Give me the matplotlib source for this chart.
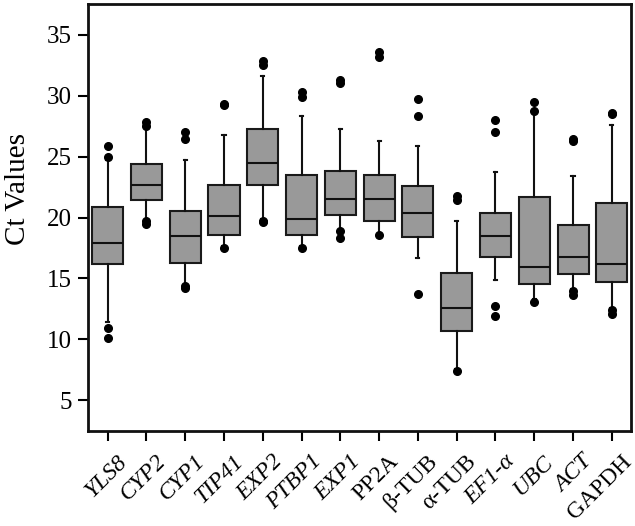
import matplotlib
matplotlib.use("Agg")
import matplotlib.pyplot as plt
import matplotlib.transforms as mtransforms

plt.rcParams["font.family"] = ["Liberation Serif", "DejaVu Serif"]

# gene names and whether the tick label is italic
genes = ["YLS8", "CYP2", "CYP1", "TIP41", "EXP2", "PTBP1", "EXP1",
         "PP2A", "β-TUB", "α-TUB", "EF1-α", "UBC", "ACT", "GAPDH"]
italic = [True, True, True, True, True, True, True,
          False, False, False, True, True, True, False]

# box stats (Ct values)
whislo = [11.4, 19.8, 14.5, 17.7, 19.9, 17.7, 19.0, 18.7, 16.7, 7.6, 14.9, 13.3, 14.1, 12.6]
q1 = [16.15, 21.45, 16.25, 18.6, 22.7, 18.6, 20.2, 19.7, 18.4, 10.7, 16.75, 14.55, 15.4, 14.7]
med = [17.9, 22.7, 18.45, 20.1, 24.45, 19.9, 21.5, 21.55, 20.4, 12.6, 18.45, 15.9, 16.75, 16.2]
q3 = [20.9, 24.4, 20.55, 22.7, 27.3, 23.5, 23.85, 23.5, 22.55, 15.45, 20.4, 21.7, 19.35, 21.2]
whishi = [24.7, 27.3, 24.75, 26.75, 31.65, 28.3, 27.3, 26.3, 25.9, 19.75, 23.7, 28.5, 23.4, 27.6]
outliers = [
    [10.1, 10.95, 24.97, 25.9],
    [19.5, 19.7, 27.5, 27.8],
    [14.25, 14.4, 26.45, 27.05],
    [17.5, 29.2, 29.35],
    [19.6, 19.75, 32.5, 32.8],
    [17.5, 29.9, 30.3],
    [18.3, 18.9, 31.0, 31.3],
    [18.6, 33.2, 33.55],
    [13.75, 28.36, 29.75],
    [7.43, 21.45, 21.75],
    [11.95, 12.7, 27.0, 27.97],
    [13.1, 28.7, 29.5],
    [13.66, 14.0, 26.3, 26.45],
    [12.05, 12.4, 28.5, 28.6],
]

stats = []
for i, g in enumerate(genes):
    stats.append({"label": g, "whislo": whislo[i], "q1": q1[i], "med": med[i],
                  "q3": q3[i], "whishi": whishi[i], "fliers": outliers[i]})

fig = plt.figure(figsize=(6.35, 5.26), dpi=100)
ax = fig.add_axes([0.139, 0.181, 0.855, 0.811])

ax.bxp(
    stats, positions=range(len(genes)), widths=0.8, patch_artist=True,
    boxprops=dict(facecolor="#999999", edgecolor="#1a1a1a", linewidth=1.5),
    medianprops=dict(color="#111111", linewidth=1.5),
    whiskerprops=dict(color="#111111", linewidth=1.5),
    capprops=dict(color="#111111", linewidth=1.5),
    capwidths=0.08,
    flierprops=dict(marker="o", markerfacecolor="black", markeredgecolor="black",
                    markersize=5.5, linestyle="none"),
)

ax.set_xlim(-0.5, len(genes) - 0.5)
ax.set_ylim(2.5, 37.5)
ax.set_yticks([5, 10, 15, 20, 25, 30, 35])
ax.tick_params(axis="y", labelsize=18, length=7.5, width=1.5, direction="out", pad=4.5)
ax.tick_params(axis="x", labelsize=17, length=7, width=1.5, direction="out", pad=3)
ax.set_xticks(range(len(genes)))
ax.set_xticklabels(genes, rotation=45, ha="right", rotation_mode="anchor")
# labels sit a bit right of / below their ticks in the original
shift = mtransforms.ScaledTranslation(6.5 / 72, -4.5 / 72, fig.dpi_scale_trans)
for lab, it in zip(ax.get_xticklabels(), italic):
    lab.set_style("italic" if it else "normal")
    lab.set_transform(lab.get_transform() + shift)

for s in ax.spines.values():
    s.set_linewidth(2)
    s.set_color("#111111")

ax.set_ylabel("Ct Values", fontsize=21)
ax.yaxis.set_label_coords(-0.106, 0.567)

fig.savefig("out.png", dpi=100)
